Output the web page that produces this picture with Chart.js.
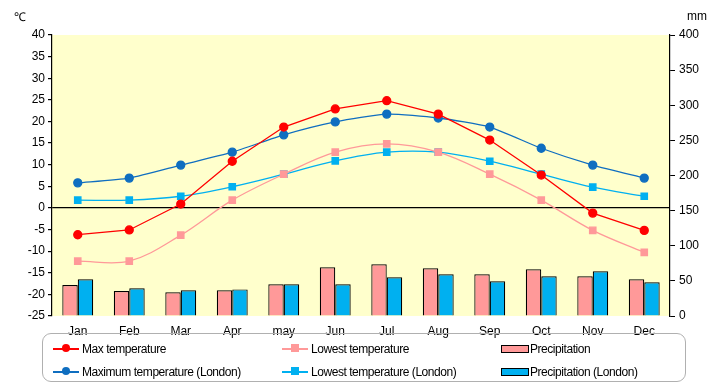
<!DOCTYPE html>
<html>
<head>
<meta charset="utf-8">
<script src="https://cdn.jsdelivr.net/npm/chart.js@4.4.0/dist/chart.umd.min.js"></script>
<style>
  body { margin: 0; background: #fff; font-family: "Liberation Sans", Arial, sans-serif; }
  #wrap { position: relative; width: 720px; height: 385px; }
  .unit { position: absolute; font-size: 12px; color: #000; }
  #legend { position: absolute; left: 42px; top: 333px; width: 642px; height: 47px;
            border: 1.5px solid #b0b0b0; border-radius: 9px; }
  .item { position: absolute; font-size: 12px; line-height: 14px; white-space: nowrap; letter-spacing: -0.45px; }
  .sw { position: absolute; }
</style>
</head>
<body>
<div id="wrap">
  <canvas id="c" width="720" height="385"></canvas>
  <div class="unit" style="left:14px;top:8px;">℃</div>
  <div class="unit" style="left:687px;top:9px;">mm</div>
  <div id="legend"></div>
</div>
<script>
// data
const months = ["Jan", "Feb", "Mar", "Apr", "may", "Jun", "Jul", "Aug", "Sep", "Oct", "Nov", "Dec"];
const maxTemp = [-6.2, -5.1, 0.9, 10.8, 18.7, 22.9, 24.8, 21.7, 15.7, 7.6, -1.2, -5.2];
const lowTemp = [-12.3, -12.3, -6.3, 1.8, 7.8, 12.9, 14.8, 12.9, 7.8, 1.8, -5.2, -10.3];
const precip = [44, 35.6, 33.7, 36.5, 45.1, 69.3, 73.6, 67.9, 59.3, 66.4, 56.5, 52.2];
const maxLondon = [5.8, 6.9, 9.9, 12.9, 16.9, 19.9, 21.7, 20.8, 18.7, 13.8, 9.9, 6.9];
const lowLondon = [1.8, 1.8, 2.7, 4.9, 7.8, 10.9, 12.9, 12.9, 10.8, 7.8, 4.8, 2.7];
const precipLondon = [52.2, 39.4, 36.5, 37.9, 45.1, 45.1, 55, 59.3, 49.3, 56.5, 63.6, 47.9];
const tempTicks = { min: -25, max: 40, step: 5 };
const mmTicks = { min: 0, max: 400, step: 50 };

const RED = "#FF0000", PINK = "#FF9999", BLUE = "#0F6EC0", CYAN = "#00B0F0";
const FONT = { family: "Liberation Sans, Arial, sans-serif", size: 12 };

// yellow plot background
const plotBg = {
  id: "plotBg",
  beforeDraw(chart) {
    const a = chart.chartArea, ctx = chart.ctx;
    ctx.save();
    ctx.fillStyle = "#FFFFCC";
    ctx.fillRect(a.left, a.top, a.right - a.left, a.bottom - a.top);
    ctx.restore();
  }
};

function lineSet(label, data, color, style, radius, tension) {
  return {
    type: "line", label, data, yAxisID: "y", order: 1,
    borderColor: color, backgroundColor: color, borderWidth: 1.3,
    pointStyle: style, pointRadius: radius, pointBorderColor: color,
    pointBackgroundColor: color, tension
  };
}

function barSet(label, data, color) {
  return {
    type: "bar", label, data, yAxisID: "y2", order: 2,
    backgroundColor: color, borderColor: "#000", borderWidth: 1.2,
    categoryPercentage: 0.6, barPercentage: 1.0
  };
}

new Chart(document.getElementById("c"), {
  data: {
    labels: months,
    datasets: [
      lineSet("Max temperature", maxTemp, RED, "circle", 4, 0),
      lineSet("Lowest temperature", lowTemp, PINK, "rect", 4.5, 0.35),
      barSet("Precipitation", precip, PINK),
      lineSet("Maximum temperature (London)", maxLondon, BLUE, "circle", 4, 0.2),
      lineSet("Lowest temperature (London)", lowLondon, CYAN, "rect", 4.5, 0.35),
      barSet("Precipitation (London)", precipLondon, CYAN)
    ]
  },
  options: {
    responsive: false,
    animation: false,
    layout: { padding: { top: 35, left: 0, right: 0, bottom: 0 } },
    plugins: { legend: { display: false }, tooltip: { enabled: false } },
    scales: {
      x: {
        grid: { display: false },
        border: { display: false },
        ticks: { color: "#000", font: FONT, padding: 0, maxRotation: 0 },
        afterFit(s) { s.height = 69; }
      },
      y: {
        position: "left",
        min: tempTicks.min, max: tempTicks.max,
        ticks: { stepSize: tempTicks.step, color: "#000", font: FONT, padding: 3 },
        grid: {
          drawOnChartArea: true, tickLength: 4, tickColor: "#000",
          color: c => (c.tick && c.tick.value === 0 ? "#000" : "rgba(0,0,0,0)"),
          lineWidth: 1.2
        },
        border: { display: true, color: "#000", width: 1.2 },
        afterFit(s) { s.width = 52; }
      },
      y2: {
        position: "right",
        min: mmTicks.min, max: mmTicks.max,
        ticks: { stepSize: mmTicks.step, color: "#000", font: FONT, padding: 4 },
        grid: { drawOnChartArea: false, tickLength: 5, tickColor: "#000" },
        border: { display: true, color: "#000", width: 1.2 },
        afterFit(s) { s.width = 50; }
      }
    }
  },
  plugins: [plotBg]
});

// legend: three columns, two rows
const legendItems = [
  { text: "Max temperature", color: RED, kind: "circle", x: 10, y: 8 },
  { text: "Lowest temperature", color: PINK, kind: "rect", x: 239, y: 8 },
  { text: "Precipitation", color: PINK, kind: "bar", x: 458, y: 8 },
  { text: "Maximum temperature (London)", color: BLUE, kind: "circle", x: 10, y: 31 },
  { text: "Lowest temperature (London)", color: CYAN, kind: "rect", x: 239, y: 31 },
  { text: "Precipitation (London)", color: CYAN, kind: "bar", x: 458, y: 31 }
];
const legend = document.getElementById("legend");
legendItems.forEach(it => {
  let sw = "";
  if (it.kind === "bar") {
    sw = `<div class="sw" style="left:${it.x}px;top:${it.y + 3}px;width:26px;height:6px;background:${it.color};border:1.3px solid #000;"></div>`;
  } else {
    const r = it.kind === "circle" ? "50%" : "0";
    sw = `<div class="sw" style="left:${it.x}px;top:${it.y + 6}px;width:26px;height:1.5px;background:${it.color};"></div>` +
         `<div class="sw" style="left:${it.x + 9}px;top:${it.y + 2}px;width:8px;height:8px;background:${it.color};border-radius:${r};"></div>`;
  }
  legend.innerHTML += sw + `<div class="item" style="left:${it.x + 29}px;top:${it.y}px;">${it.text}</div>`;
});
</script>
</body>
</html>
